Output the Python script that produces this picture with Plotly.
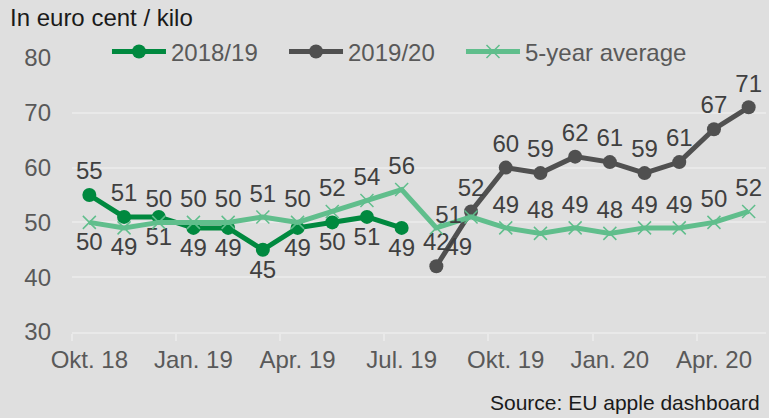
import plotly.graph_objects as go

months = ["Okt. 18", "Nov. 18", "Dez. 18", "Jan. 19", "Feb. 19", "Mär. 19", "Apr. 19",
          "Mai. 19", "Jun. 19", "Jul. 19", "Aug. 19", "Sep. 19", "Okt. 19", "Nov. 19",
          "Dez. 19", "Jan. 20", "Feb. 20", "Mär. 20", "Apr. 20", "Mai. 20"]
s2018_19 = [55, 51, 51, 49, 49, 45, 49, 50, 51, 49]
s2019_20 = [42, 52, 60, 59, 62, 61, 59, 61, 67, 71]
avg5 = [50, 49, 50, 50, 50, 51, 50, 52, 54, 56, 49, 51, 49, 48, 49, 48, 49, 49, 50, 52]

idx = list(range(len(months)))
x1819 = idx[:len(s2018_19)]
x1920 = idx[len(months) - len(s2019_20):]

FONT = "Liberation Sans, Arial, sans-serif"
FS = 24
LBL = dict(family=FONT, size=FS, color="#404040")

pos1819 = ["top center"] * 2 + ["bottom center"] * 8
pos1920 = ["top center"] * 10
posavg = (["bottom center"] * 2 + ["top center"] * 8 + ["bottom right", "middle left"]
          + ["top center"] * 8)

fig = go.Figure()
fig.add_trace(go.Scatter(
    x=x1819, y=s2018_19, name="2018/19", mode="lines+markers+text",
    line=dict(color="#00893F", width=5),
    marker=dict(symbol="circle", size=14, color="#00893F"),
    text=[str(v) for v in s2018_19], textposition=pos1819, textfont=LBL,
    legend="legend",
))
fig.add_trace(go.Scatter(
    x=x1920, y=s2019_20, name="2019/20", mode="lines+markers+text",
    line=dict(color="#505050", width=5),
    marker=dict(symbol="circle", size=14, color="#505050"),
    text=[str(v) for v in s2019_20], textposition=pos1920, textfont=LBL,
    legend="legend2",
))
fig.add_trace(go.Scatter(
    x=idx, y=avg5, name="5-year average", mode="lines+markers+text",
    line=dict(color="#60BE8C", width=5),
    marker=dict(symbol="x-thin-open", size=13, color="#60BE8C", line=dict(width=1.5, color="#60BE8C")),
    text=[str(v) for v in avg5], textposition=posavg, textfont=LBL,
    legend="legend3",
))

leg_common = dict(orientation="h", xanchor="left", y=1.022, yanchor="middle",
                  bgcolor="rgba(0,0,0,0)", font=dict(family=FONT, size=FS, color="#595959"),
                  itemwidth=54)

fig.update_layout(
    width=769, height=418,
    paper_bgcolor="#DFDFDF", plot_bgcolor="#DFDFDF",
    margin=dict(l=72, r=3, t=58, b=86),
    font=dict(family=FONT, size=FS, color="#595959"),
    showlegend=True,
    legend=dict(x=0.0504, **leg_common),
    legend2=dict(x=0.3055, **leg_common),
    legend3=dict(x=0.5605, **leg_common),
    xaxis=dict(range=[-0.5, len(months) - 0.5], showgrid=False, zeroline=False,
               tickmode="array", tickvals=idx[::3], ticktext=months[::3],
               ticks="", showline=True, linecolor="#E9E9E9", linewidth=1.5,
               tickfont=dict(family=FONT, size=FS, color="#595959"),
               ticklabelstandoff=5,
               minor=dict(tickmode="array", tickvals=[i - 0.5 for i in idx[::3]],
                          ticks="outside", ticklen=7, tickcolor="#E9E9E9", tickwidth=1.5,
                          showgrid=False)),
    yaxis=dict(range=[30, 80], tickmode="array", tickvals=[30, 40, 50, 60, 70, 80],
               showgrid=True, gridcolor="#E9E9E9", gridwidth=1.5, zeroline=False,
               ticks="", tickfont=dict(family=FONT, size=FS, color="#595959"),
               ticklabelstandoff=20),
    annotations=[
        dict(text="In euro cent / kilo", xref="paper", yref="paper", x=-0.092, y=1.146,
             xanchor="left", yanchor="middle", showarrow=False,
             font=dict(family=FONT, size=FS, color="#1A1A1A")),
        dict(text="Source: EU apple dashboard", xref="paper", yref="paper", x=0.994, y=-0.2555,
             xanchor="right", yanchor="middle", showarrow=False,
             font=dict(family=FONT, size=21, color="#1A1A1A")),
    ],
)

fig.write_html("out.html", config={"displayModeBar": False},
               post_script="document.body.style.margin='0';document.body.style.padding='0';")
